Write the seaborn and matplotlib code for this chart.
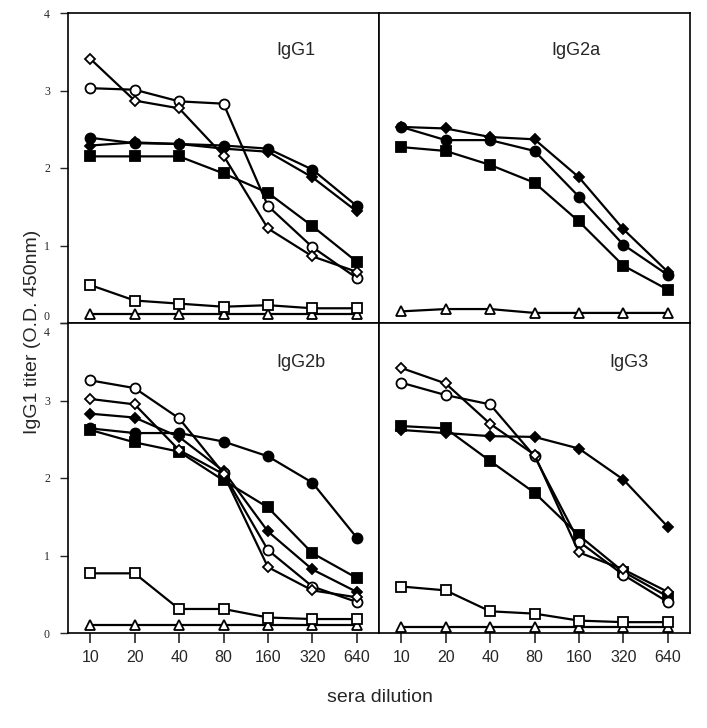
import numpy as np
import pandas as pd
import matplotlib
matplotlib.use("Agg")
import matplotlib.pyplot as plt
import matplotlib.transforms as mtransforms
import seaborn as sns

sns.set_style("ticks")
plt.rcParams['font.family'] = ['Liberation Sans', 'DejaVu Sans']

# ---- data ----
dilutions = ["10", "20", "40", "80", "160", "320", "640"]
y_ticks = [0, 1, 2, 3, 4]

# IgG1 panel
igg1_open_diamond = [3.41, 2.87, 2.77, 2.16, 1.22, 0.86, 0.66]
igg1_open_circle = [3.03, 3.01, 2.86, 2.83, 1.51, 0.98, 0.58]
igg1_filled_circle = [2.39, 2.32, 2.31, 2.29, 2.25, 1.98, 1.51]
igg1_filled_diamond = [2.29, 2.33, 2.31, 2.25, 2.21, 1.88, 1.44]
igg1_filled_square = [2.15, 2.15, 2.15, 1.93, 1.68, 1.25, 0.79]
igg1_open_square = [0.49, 0.29, 0.25, 0.21, 0.23, 0.19, 0.19]
igg1_open_triangle = [0.12, 0.12, 0.12, 0.12, 0.12, 0.12, 0.12]

# IgG2a panel
igg2a_filled_circle = [2.53, 2.36, 2.36, 2.22, 1.63, 1.01, 0.62]
igg2a_filled_diamond = [2.53, 2.51, 2.40, 2.37, 1.88, 1.21, 0.66]
igg2a_filled_square = [2.27, 2.22, 2.04, 1.81, 1.31, 0.74, 0.43]
igg2a_open_triangle = [0.15, 0.18, 0.18, 0.13, 0.13, 0.13, 0.13]

# IgG2b panel
igg2b_open_circle = [3.26, 3.16, 2.77, 2.06, 1.07, 0.60, 0.40]
igg2b_open_diamond = [3.02, 2.95, 2.36, 2.05, 0.85, 0.55, 0.46]
igg2b_filled_diamond = [2.83, 2.78, 2.53, 2.09, 1.31, 0.82, 0.53]
igg2b_filled_circle = [2.64, 2.58, 2.58, 2.47, 2.28, 1.94, 1.23]
igg2b_filled_square = [2.62, 2.46, 2.34, 1.97, 1.62, 1.03, 0.71]
igg2b_open_square = [0.77, 0.77, 0.31, 0.31, 0.20, 0.18, 0.18]
igg2b_open_triangle = [0.10, 0.10, 0.10, 0.10, 0.10, 0.10, 0.10]

# IgG3 panel
igg3_open_diamond = [3.42, 3.22, 2.70, 2.30, 1.04, 0.82, 0.53]
igg3_open_circle = [3.23, 3.07, 2.95, 2.28, 1.18, 0.75, 0.40]
igg3_filled_diamond = [2.62, 2.58, 2.54, 2.53, 2.38, 1.98, 1.37]
igg3_filled_square = [2.67, 2.64, 2.22, 1.81, 1.26, 0.79, 0.47]
igg3_open_square = [0.60, 0.55, 0.28, 0.25, 0.16, 0.14, 0.14]
igg3_open_triangle = [0.08, 0.08, 0.08, 0.08, 0.08, 0.08, 0.08]

panels = {
    "IgG1": {"open_triangle": igg1_open_triangle, "open_square": igg1_open_square,
             "filled_square": igg1_filled_square, "filled_diamond": igg1_filled_diamond,
             "filled_circle": igg1_filled_circle, "open_circle": igg1_open_circle,
             "open_diamond": igg1_open_diamond},
    "IgG2a": {"open_triangle": igg2a_open_triangle, "filled_square": igg2a_filled_square,
              "filled_circle": igg2a_filled_circle, "filled_diamond": igg2a_filled_diamond},
    "IgG2b": {"open_triangle": igg2b_open_triangle, "open_square": igg2b_open_square,
              "filled_circle": igg2b_filled_circle, "filled_square": igg2b_filled_square,
              "filled_diamond": igg2b_filled_diamond, "open_circle": igg2b_open_circle,
              "open_diamond": igg2b_open_diamond},
    "IgG3": {"open_triangle": igg3_open_triangle, "open_square": igg3_open_square,
             "filled_diamond": igg3_filled_diamond, "filled_square": igg3_filled_square,
             "open_circle": igg3_open_circle, "open_diamond": igg3_open_diamond},
}

styles = {
    "open_triangle": ("^", "white", 6.5),
    "open_square": ("s", "white", 7.0),
    "filled_square": ("s", "black", 7.0),
    "filled_diamond": ("D", "black", 5.6),
    "filled_circle": ("o", "black", 7.2),
    "open_circle": ("o", "white", 7.2),
    "open_diamond": ("D", "white", 5.6),
}

# ---- layout ----
W, H = 707, 728
fig = plt.figure(figsize=(W / 100, H / 100), dpi=100)
x0, xm, x1 = 68, 379, 690
y0, ym, y1 = 13, 323, 633

def rect(l, t, r, b):
    return [l / W, 1 - b / H, (r - l) / W, (b - t) / H]

axes = {
    "IgG1": fig.add_axes(rect(x0, y0, xm, ym)),
    "IgG2a": fig.add_axes(rect(xm, y0, x1, ym)),
    "IgG2b": fig.add_axes(rect(x0, ym, xm, y1)),
    "IgG3": fig.add_axes(rect(xm, ym, x1, y1)),
}
title_pos = {"IgG1": (0.733, 0.88), "IgG2a": (0.633, 0.88),
             "IgG2b": (0.749, 0.871), "IgG3": (0.804, 0.871)}

pos = np.arange(len(dilutions))
for name, ax in axes.items():
    for sname, vals in panels[name].items():
        m, fc, ms = styles[sname]
        df = pd.DataFrame({"pos": pos, "od": vals})
        sns.lineplot(data=df, x="pos", y="od", ax=ax, color="black", linewidth=1.6,
                     marker=m, markersize=ms, markerfacecolor=fc,
                     markeredgecolor="black", markeredgewidth=1.3,
                     sort=False, estimator=None, legend=False)
    ax.set_xlim(-0.5, 6.5)
    ax.set_ylim(0, 4)
    ax.set_xlabel("")
    ax.set_ylabel("")
    for sp in ax.spines.values():
        sp.set_visible(True)
        sp.set_linewidth(1.2)
        sp.set_color("black")
    ax.text(*title_pos[name], name, transform=ax.transAxes, ha="center", va="center",
            fontsize=13)
    left = name in ("IgG1", "IgG2b")
    bottom = name in ("IgG2b", "IgG3")
    ax.set_xticks(pos)
    ax.set_yticks(y_ticks)
    if bottom:
        ax.set_xticklabels(dilutions, fontsize=11.5)
        ax.tick_params(axis="x", length=7, width=1.2, pad=5, direction="out")
    else:
        ax.tick_params(axis="x", length=0, labelbottom=False)
    if left:
        ax.set_yticklabels([str(t) for t in y_ticks], fontsize=8.5,
                           family=["Liberation Serif", "DejaVu Serif"])
        ax.tick_params(axis="y", length=6, width=1.0, pad=7, direction="out")
    else:
        ax.tick_params(axis="y", length=0, labelleft=False)

# separate the stacked "0" / "4" labels at the panel boundary
lbl0 = axes["IgG1"].get_yticklabels()[0]
lbl0.set_transform(lbl0.get_transform() + mtransforms.ScaledTranslation(0, 8 / 100, fig.dpi_scale_trans))
lbl4 = axes["IgG2b"].get_yticklabels()[-1]
lbl4.set_transform(lbl4.get_transform() + mtransforms.ScaledTranslation(0, -9 / 100, fig.dpi_scale_trans))

fig.text(33 / W, 1 - 332 / H, "IgG1 titer (O.D. 450nm)", rotation=90,
         ha="center", va="center", fontsize=14)
fig.text(380 / W, 1 - 697 / H, "sera dilution", ha="center", va="center", fontsize=14)

fig.savefig("out.png", dpi=100)
